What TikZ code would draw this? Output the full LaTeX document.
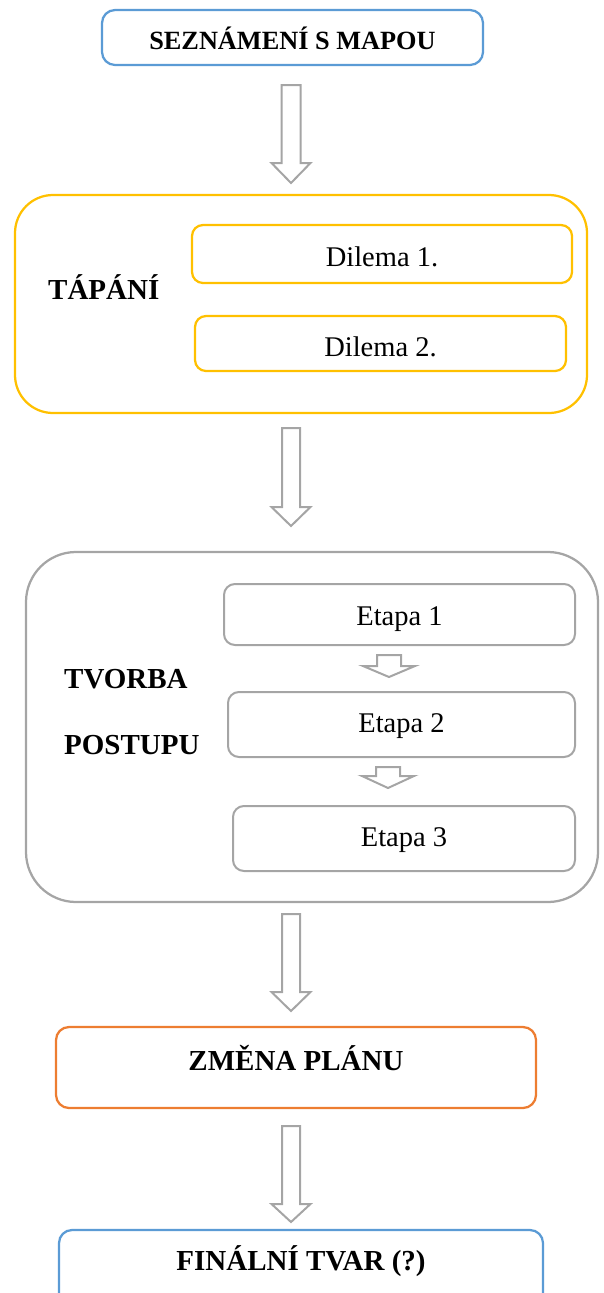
\documentclass[tikz,border=0pt]{standalone}
\usepackage{fontspec}
\setmainfont{Liberation Serif}
\usetikzlibrary{positioning}

\definecolor{mapblue}{HTML}{5B9BD5}
\definecolor{mapyellow}{HTML}{FFC000}
\definecolor{mapgray}{HTML}{A5A5A5}
\definecolor{maporange}{HTML}{ED7D31}

\tikzset{
  stage/.style={draw, line width=2.25pt, rounded corners=13pt, inner sep=0pt, text depth=0pt,
    font=\fontsize{29}{32}\selectfont\bfseries},
  item/.style={draw, line width=2pt, rounded corners=11pt, inner sep=0pt, text depth=0pt,
    font=\fontsize{28.5}{32}\selectfont},
  group/.style={draw, line width=2.25pt, inner sep=0pt},
  heading/.style={anchor=base west, inner sep=0pt, font=\fontsize{29}{32}\selectfont\bfseries},
  hollow/.style={draw=mapgray, line width=2pt, line join=miter},
}

\begin{document}
\begin{tikzpicture}[x=1pt, y=-1pt]
    \useasboundingbox (0,0) rectangle (603,1293);
    \clip (0,0) rectangle (603,1293);

    % Start
    \node[stage, draw=mapblue, minimum width=381pt, minimum height=55pt, text height=23pt,
      font=\fontsize{26.3}{30}\selectfont\bfseries] (mapa) at (292.5,37.5) {SEZNÁMENÍ S MAPOU};

    % Tapani with two dilemmas
    \node[group, draw=mapyellow, minimum width=572pt, minimum height=218pt, rounded corners=38pt] (tapani) at (301,304) {};
    \node[heading] (tapanilbl) at (48,299) {TÁPÁNÍ};
    \node[item, draw=mapyellow, line width=2.25pt, minimum width=380pt, minimum height=58pt, text height=24pt] (dilema1) at (382,254) {Dilema 1.};
    \node[item, draw=mapyellow, line width=2.25pt, minimum width=371pt, minimum height=55pt, text height=25pt] (dilema2) at (380.5,343.5) {Dilema 2.};

    % Tvorba postupu with three stages
    \node[group, draw=mapgray, minimum width=572pt, minimum height=350pt, rounded corners=50pt] (tvorba) at (312,727) {};
    \node[heading] (tvorbalbl) at (64,688) {TVORBA};
    \node[heading] (postuplbl) at (64,754) {POSTUPU};
    \node[item, draw=mapgray, minimum width=351pt, minimum height=61pt, text height=21pt] (etapa1) at (399.5,614.5) {Etapa 1};
    \node[item, draw=mapgray, minimum width=347pt, minimum height=65pt, text height=15pt] (etapa2) at (401.5,724.5) {Etapa 2};
    \node[item, draw=mapgray, minimum width=342pt, minimum height=65pt, text height=15pt] (etapa3) at (404,838.5) {Etapa 3};

    % Change and final shape
    \node[stage, draw=maporange, minimum width=480pt, minimum height=81pt, text height=5pt] (zmena) at (296,1067.5) {ZMĚNA PLÁNU};
    \node[stage, draw=mapblue, minimum width=484pt, minimum height=80pt, text height=0pt] (final) at (301,1270) {FINÁLNÍ TVAR (?)};

    % Hollow arrows: x / shaft top / head line / tip / shaft half width / head half width
    \foreach \x/\ys/\yh/\yt/\s/\h in {291/85/163/183/9.5/19.5, 291/428/507/526/9/19.5,
        291/914/992/1011/9/19.5, 291/1126/1204/1222/9/19.5,
        389/655/666/677/12/26, 388/767/776/788/12/26} {
        \draw[hollow] (\x-\s,\ys) -- (\x+\s,\ys) -- (\x+\s,\yh) -- (\x+\h,\yh)
            -- (\x,\yt) -- (\x-\h,\yh) -- (\x-\s,\yh) -- cycle;
    }
\end{tikzpicture}
\end{document}
